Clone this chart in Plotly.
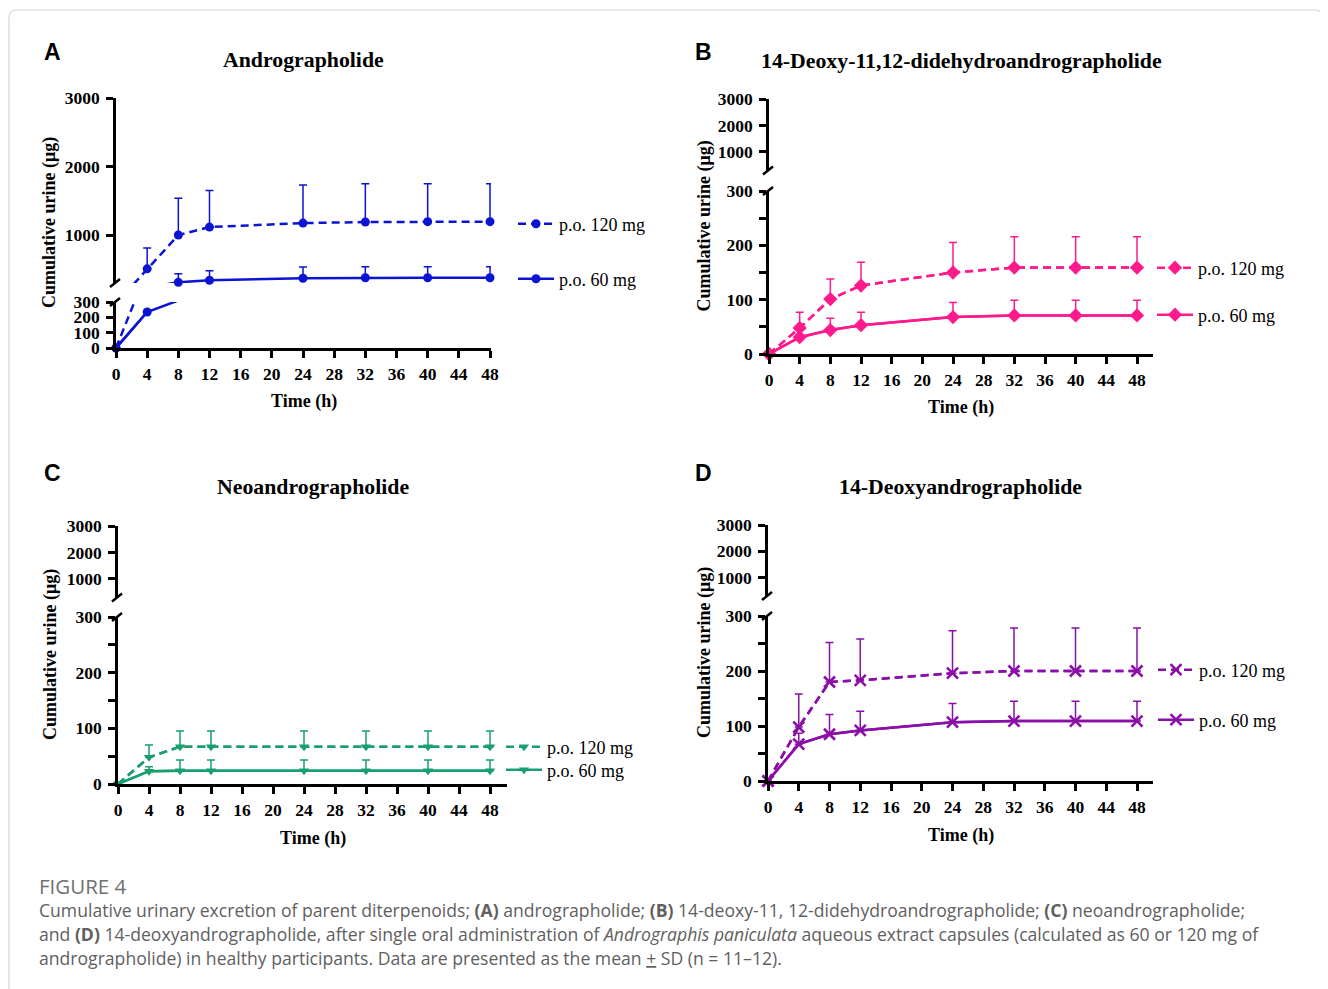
import plotly.graph_objects as go

# ---------------- data ----------------
time_h = [0, 4, 8, 12, 24, 32, 40, 48]
x_tick_vals = [0, 4, 8, 12, 16, 20, 24, 28, 32, 36, 40, 44, 48]
low_tick_vals = [0, 100, 200, 300]
up_tick_vals = [1000, 2000, 3000]
series_names = ["p.o. 120 mg", "p.o. 60 mg"]

# A: Andrographolide
andro_120_mean = [0, 507, 1000, 1116, 1174, 1190, 1195, 1195]
andro_120_sd = [0, 303, 536, 534, 556, 560, 555, 555]
andro_60_mean = [0, 235, 310, 340, 370, 377, 377, 377]
andro_60_sd = [0, 0, 125, 140, 165, 160, 160, 160]

# B: 14-Deoxy-11,12-didehydroandrographolide
ddha_120_mean = [0, 48, 101, 126, 150, 159, 159, 159]
ddha_120_sd = [0, 29, 37, 43, 55, 57, 57, 57]
ddha_60_mean = [0, 31, 44, 53, 68, 71, 71, 71]
ddha_60_sd = [0, 20, 22, 24, 27, 28, 28, 28]

# C: Neoandrographolide
neo_120_mean = [0, 48, 67, 67, 67, 67, 67, 67]
neo_120_sd = [0, 22, 28, 28, 28, 28, 28, 28]
neo_60_mean = [0, 23, 24, 24, 24, 24, 24, 24]
neo_60_sd = [0, 8, 19, 19, 19, 19, 19, 19]

# D: 14-Deoxyandrographolide
da_120_mean = [0, 98, 180, 183, 196, 200, 200, 200]
da_120_sd = [0, 60, 72, 75, 77, 78, 78, 78]
da_60_mean = [0, 67, 85, 92, 107, 109, 109, 109]
da_60_sd = [0, 20, 36, 35, 34, 36, 36, 36]

BREAK_AT = 300
UPPER_MAX = 3000

# ---------------- geometry / style ----------------
W, H = 1328, 989
OFF = 8  # page body margin of the exported html
def fx(p):
    return (p - OFF) / W
def fy(p):
    return 1 - (p - OFF) / H

SERIF = "Liberation Serif"
SANS = "Liberation Sans"

panels = [
    dict(letter="A", title="Andrographolide", color="#0A14D2", symbol="circle", msize=9,
         x0=116, x48=490, xend=491, low=(348, 302), up=(283, 98), minor=False,
         data=[(andro_120_mean, andro_120_sd), (andro_60_mean, andro_60_sd)],
         leg_x=517, leg_y=(224, 279), lx=52, ly=52, tx=50, ty=60),
    dict(letter="B", title="14-Deoxy-11,12-didehydroandrographolide", color="#FF1A8C", symbol="diamond", msize=11,
         x0=769, x48=1137, xend=1153, low=(354, 191), up=(170.5, 99), minor=True,
         data=[(ddha_120_mean, ddha_120_sd), (ddha_60_mean, ddha_60_sd)],
         leg_x=1156, leg_y=(268, 315), lx=703, ly=52, tx=704, ty=61),
    dict(letter="C", title="Neoandrographolide", color="#17A06E", symbol="triangle-down", msize=9,
         x0=118, x48=490, xend=507, low=(784, 617), up=(597.5, 526), minor=True,
         data=[(neo_120_mean, neo_120_sd), (neo_60_mean, neo_60_sd)],
         leg_x=505, leg_y=(747, 770), lx=52, ly=473, tx=50, ty=487),
    dict(letter="D", title="14-Deoxyandrographolide", color="#8A0FA8", symbol="x-thin", msize=11,
         x0=768, x48=1137, xend=1153, low=(781, 616), up=(596, 525), minor=True,
         data=[(da_120_mean, da_120_sd), (da_60_mean, da_60_sd)],
         leg_x=1157, leg_y=(670, 720), lx=703, ly=473, tx=704, ty=487),
]

fig = go.Figure()
layout = dict(
    width=W, height=H, autosize=False,
    margin=dict(l=0, r=0, t=0, b=0, pad=0, autoexpand=False),
    paper_bgcolor="white", plot_bgcolor="rgba(0,0,0,0)", showlegend=True,
)
annotations = []
shapes = []

AX_LW = 2.5

def mask(vals, cond):
    return [v if c else None for v, c in zip(vals, cond)]

def text_ann(txt, x, y, font, **kw):
    d = dict(text=txt, x=x, y=y, xref="paper", yref="paper", showarrow=False,
             xanchor="center", yanchor="middle", font=font)
    d.update(kw)
    return d

for i, p in enumerate(panels):
    lo_id, up_id = 2 * i + 1, 2 * i + 2
    xlo = f"x{lo_id}"; ylo = f"y{lo_id}"
    xup = f"x{up_id}"; yup = f"y{up_id}"
    xmax = 48 * (p["xend"] - p["x0"]) / (p["x48"] - p["x0"])
    xdom = [fx(p["x0"]), fx(p["xend"])]

    tickfont = dict(family=SERIF, size=17.5, color="black", weight="bold")
    layout[f"xaxis{lo_id}"] = dict(
        domain=xdom, anchor=ylo, range=[0, xmax], tickmode="array", tickvals=x_tick_vals,
        showline=True, linewidth=AX_LW, linecolor="black", ticks="outside", ticklen=7,
        tickwidth=AX_LW, tickcolor="black", showgrid=False, zeroline=False,
        tickfont=tickfont, ticklabelstandoff=1, automargin=False,
    )
    layout[f"xaxis{up_id}"] = dict(domain=xdom, anchor=yup, matches=xlo, visible=False,
                                   showgrid=False, zeroline=False, automargin=False)
    ylow = dict(
        domain=[fy(p["low"][0]), fy(p["low"][1])], anchor=xlo, range=[0, BREAK_AT],
        tickmode="array", tickvals=low_tick_vals, showline=True, linewidth=AX_LW,
        linecolor="black", ticks="outside", ticklen=7, tickwidth=AX_LW, tickcolor="black",
        showgrid=False, zeroline=False, tickfont=tickfont, ticklabelstandoff=3,
        automargin=False,
    )
    if p["minor"]:
        ylow["minor"] = dict(tickmode="linear", tick0=50, dtick=100, ticks="outside",
                             ticklen=7, tickwidth=AX_LW, tickcolor="black", showgrid=False)
    layout[f"yaxis{lo_id}"] = ylow
    layout[f"yaxis{up_id}"] = dict(
        domain=[fy(p["up"][0]), fy(p["up"][1])], anchor=xup, range=[BREAK_AT, UPPER_MAX],
        tickmode="array", tickvals=up_tick_vals, showline=True, linewidth=AX_LW,
        linecolor="black", ticks="outside", ticklen=7, tickwidth=AX_LW, tickcolor="black",
        showgrid=False, zeroline=False, tickfont=tickfont, ticklabelstandoff=3,
        automargin=False,
    )

    c = p["color"]
    for k, ((mean, sd), name) in enumerate(zip(p["data"], series_names)):
        leg_idx = 2 * i + k + 1
        leg_name = "legend" if leg_idx == 1 else f"legend{leg_idx}"
        dash = "8px,5px" if k == 0 else "solid"
        in_low = [m <= BREAK_AT for m in mean]
        in_up = [m > BREAK_AT for m in mean]
        marker = dict(symbol=p["symbol"], size=p["msize"], color=c)
        if p["symbol"] == "x-thin":
            marker["line"] = dict(width=2.6, color=c)
        # continuous lines in both segments (clipped to each segment)
        for xa, ya in ((xlo, ylo), (xup, yup)):
            fig.add_trace(go.Scatter(
                x=time_h, y=mean, mode="lines", xaxis=xa, yaxis=ya,
                line=dict(color=c, width=2.5, dash=dash), showlegend=False,
                hoverinfo="skip", legend=leg_name,
            ))
        # markers + one-sided SD in the segment the point belongs to
        for xa, ya, cond, show in ((xlo, ylo, in_low, True), (xup, yup, in_up, False)):
            fig.add_trace(go.Scatter(
                x=time_h, y=mask(mean, cond), mode="lines+markers" if show else "markers",
                xaxis=xa, yaxis=ya, name=name, marker=marker,
                line=dict(color=c, width=2.5, dash=dash),
                error_y=dict(type="data", symmetric=False, array=mask(sd, cond),
                             arrayminus=[0] * len(sd), color=c, thickness=1.5, width=4),
                cliponaxis=False, showlegend=show, legend=leg_name,
            ))
        layout[leg_name] = dict(
            x=fx(p["leg_x"] - 4), y=fy(p["leg_y"][k]), xanchor="left", yanchor="middle",
            bgcolor="rgba(0,0,0,0)", font=dict(family=SERIF, size=18, color="black"),
            borderwidth=0, itemwidth=36,
        )

    # panel letter, title, axis titles
    xc = (p["x0"] + p["xend"]) / 2
    annotations.append(text_ann(f"<b>{p['letter']}</b>", fx(p["lx"]), fy(p["ly"]),
                                dict(family=SANS, size=23, color="black")))
    annotations.append(text_ann(f"<b>{p['title']}</b>", fx(xc), fy(p["ty"]),
                                dict(family=SERIF, size=21.8, color="black")))
    annotations.append(text_ann("<b>Cumulative urine (μg)</b>", fx(p["tx"]),
                                fy((p["low"][0] + p["up"][1]) / 2),
                                dict(family=SERIF, size=18, color="black"), textangle=-90))
    annotations.append(text_ann("<b>Time (h)</b>", fx(xc), fy(p["low"][0] + 54),
                                dict(family=SERIF, size=18, color="black")))

    # axis-break slashes
    for yb in (p["low"][1], p["up"][0]):
        shapes.append(dict(type="line", xref="paper", yref="paper",
                           x0=fx(p["x0"] - 6), y0=fy(yb + 4), x1=fx(p["x0"] + 4), y1=fy(yb - 4),
                           line=dict(color="black", width=2.5)))

# figure frame with rounded top corners
r = 8
L, T, R, B = 9, 10, 1323, 1000
path = (f"M {fx(L)},{fy(B)} L {fx(L)},{fy(T + r)} Q {fx(L)},{fy(T)} {fx(L + r)},{fy(T)} "
        f"L {fx(R - r)},{fy(T)} Q {fx(R)},{fy(T)} {fx(R)},{fy(T + r)} L {fx(R)},{fy(B)}")
shapes.append(dict(type="path", path=path, xref="paper", yref="paper",
                   line=dict(color="#d4d4d4", width=1.2)))

CAP = "Open Sans"
cap_lines = [
    ("FIGURE 4", 886, "#707070", 20.5),
    ("Cumulative urinary excretion of parent diterpenoids; <b>(A)</b> andrographolide; <b>(B)</b> 14-deoxy-11, 12-didehydroandrographolide; <b>(C)</b> neoandrographolide;", 910, "#606060", 17.6),
    ("and <b>(D)</b> 14-deoxyandrographolide, after single oral administration of <i>Andrographis paniculata</i> aqueous extract capsules (calculated as 60 or 120 mg of", 934, "#606060", 17.6),
    ("andrographolide) in healthy participants. Data are presented as the mean <u>+</u> SD (n = 11–12).", 958, "#606060", 17.6),
]
for txt, yy, col, sz in cap_lines:
    annotations.append(text_ann(txt, fx(37), fy(yy), dict(family=CAP, size=sz, color=col),
                                xanchor="left"))

layout["annotations"] = annotations
layout["shapes"] = shapes
fig.update_layout(**layout)
fig.write_html("out.html")
